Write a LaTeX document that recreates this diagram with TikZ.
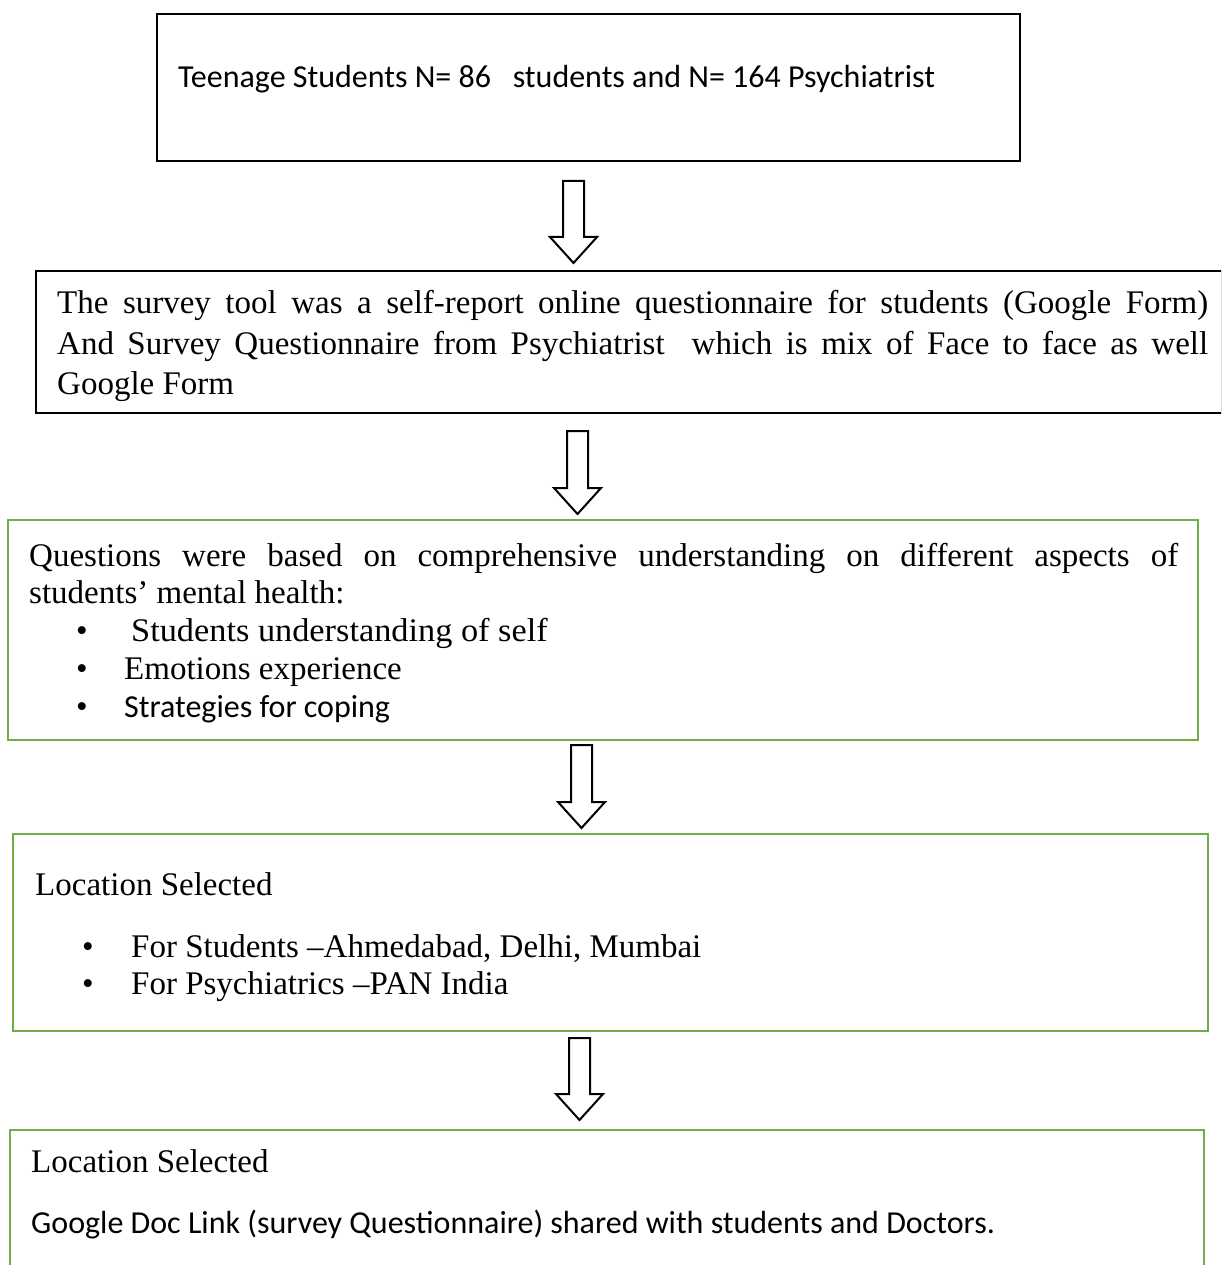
\documentclass[tikz,border=0pt]{standalone}
\usepackage{fontspec}
\setmainfont{Liberation Serif}
\newfontfamily\carl{Carlito}
\newfontfamily\widerserif[FakeStretch=1.04]{Liberation Serif}
\definecolor{boxgreen}{HTML}{70AD47}
\tikzset{
  px/.style={x=1pt,y=-1pt},
  blackbox/.style={draw=black,line width=2pt,inner sep=0pt},
  greenbox/.style={draw=boxgreen,line width=2.5pt,inner sep=0pt},
  txt/.style={anchor=base west,inner sep=0pt,font=\fontsize{33}{40}\selectfont},
  ctxt/.style={anchor=base west,inner sep=0pt,font=\carl\fontsize{32}{40}\selectfont},
  blockarrow/.style={draw=black,line width=2pt,fill=white,line join=miter}
}
\newcommand{\blockarr}[4]{% x-center, top, head-start, tip
  \draw[blockarrow] (#1-10.5,#2) -- (#1+10.5,#2) -- (#1+10.5,#3) -- (#1+23.5,#3) -- (#1,#4) -- (#1-23.5,#3) -- (#1-10.5,#3) -- cycle;}
\begin{document}
\begin{tikzpicture}[px]
\useasboundingbox (0,0) rectangle (1221,1265);
\clip (0,0) rectangle (1221,1265);
\fill[white] (0,0) rectangle (1221,1265);

% Box 1
\draw[blackbox] (157,14) rectangle (1020,161);
\node[minimum width=863pt,minimum height=147pt,inner sep=0pt] (b1) at (588.5,87.5) {};
\node[ctxt] (t1) at (178,87.5) {Teenage Students N= 86\ \ \ students and N= 164 Psychiatrist};

% Arrow 1
\blockarr{573.5}{181}{237}{263}

% Box 2
\draw[blackbox] (36,271) rectangle (1222,413);
\node[minimum width=1186pt,minimum height=142pt,inner sep=0pt] (b2) at (629,342) {};
\node[txt] (t21) at (57,313) {\makebox[1151pt][s]{The survey tool was a self-report online questionnaire for students (Google Form)}};
\node[txt] (t22) at (57,354) {\makebox[1151pt][s]{And Survey Questionnaire from Psychiatrist\ \ which is mix of Face to face as well}};
\node[txt] (t23) at (57,394) {Google Form};

% Arrow 2
\blockarr{577.5}{431}{488}{514}

% Box 3
\draw[greenbox] (8,520) rectangle (1198,740);
\node[minimum width=1190pt,minimum height=220pt,inner sep=0pt] (b3) at (603,630) {};
\node[txt] (t31) at (29,566) {\makebox[1149pt][s]{Questions were based on comprehensive understanding on different aspects of}};
\node[txt] (t32) at (29,603) {students’ mental health:};
\node[txt] (u1) at (76,641) {•};
\node[txt,font=\widerserif\fontsize{33}{40}\selectfont] (t33) at (131,641) {Students understanding of self};
\node[txt] (u2) at (76,679) {•};
\node[txt] (t34) at (124,679) {Emotions experience};
\node[txt] (u3) at (76,717) {•};
\node[ctxt] (t35) at (124,717) {Strategies for coping};

% Arrow 3
\blockarr{581.5}{745}{802}{828}

% Box 4
\draw[greenbox] (13,834) rectangle (1208,1031);
\node[minimum width=1195pt,minimum height=197pt,inner sep=0pt] (b4) at (610.5,932.5) {};
\node[txt] (t41) at (35,895) {Location Selected};
\node[txt] (u4) at (82,957) {•};
\node[txt] (t42) at (131,957) {For Students –Ahmedabad, Delhi, Mumbai};
\node[txt] (u5) at (82,994) {•};
\node[txt] (t43) at (131,994) {For Psychiatrics –PAN India};

% Arrow 4
\blockarr{579.5}{1038}{1094}{1120}

% Box 5
\draw[greenbox] (10,1130) rectangle (1204,1275);
\node[minimum width=1194pt,minimum height=145pt,inner sep=0pt] (b5) at (607,1202.5) {};
\node[txt] (t51) at (31,1172) {Location Selected};
\node[ctxt] (t52) at (31,1233) {Google Doc Link (survey Questionnaire) shared with students and Doctors.};
\end{tikzpicture}
\end{document}
